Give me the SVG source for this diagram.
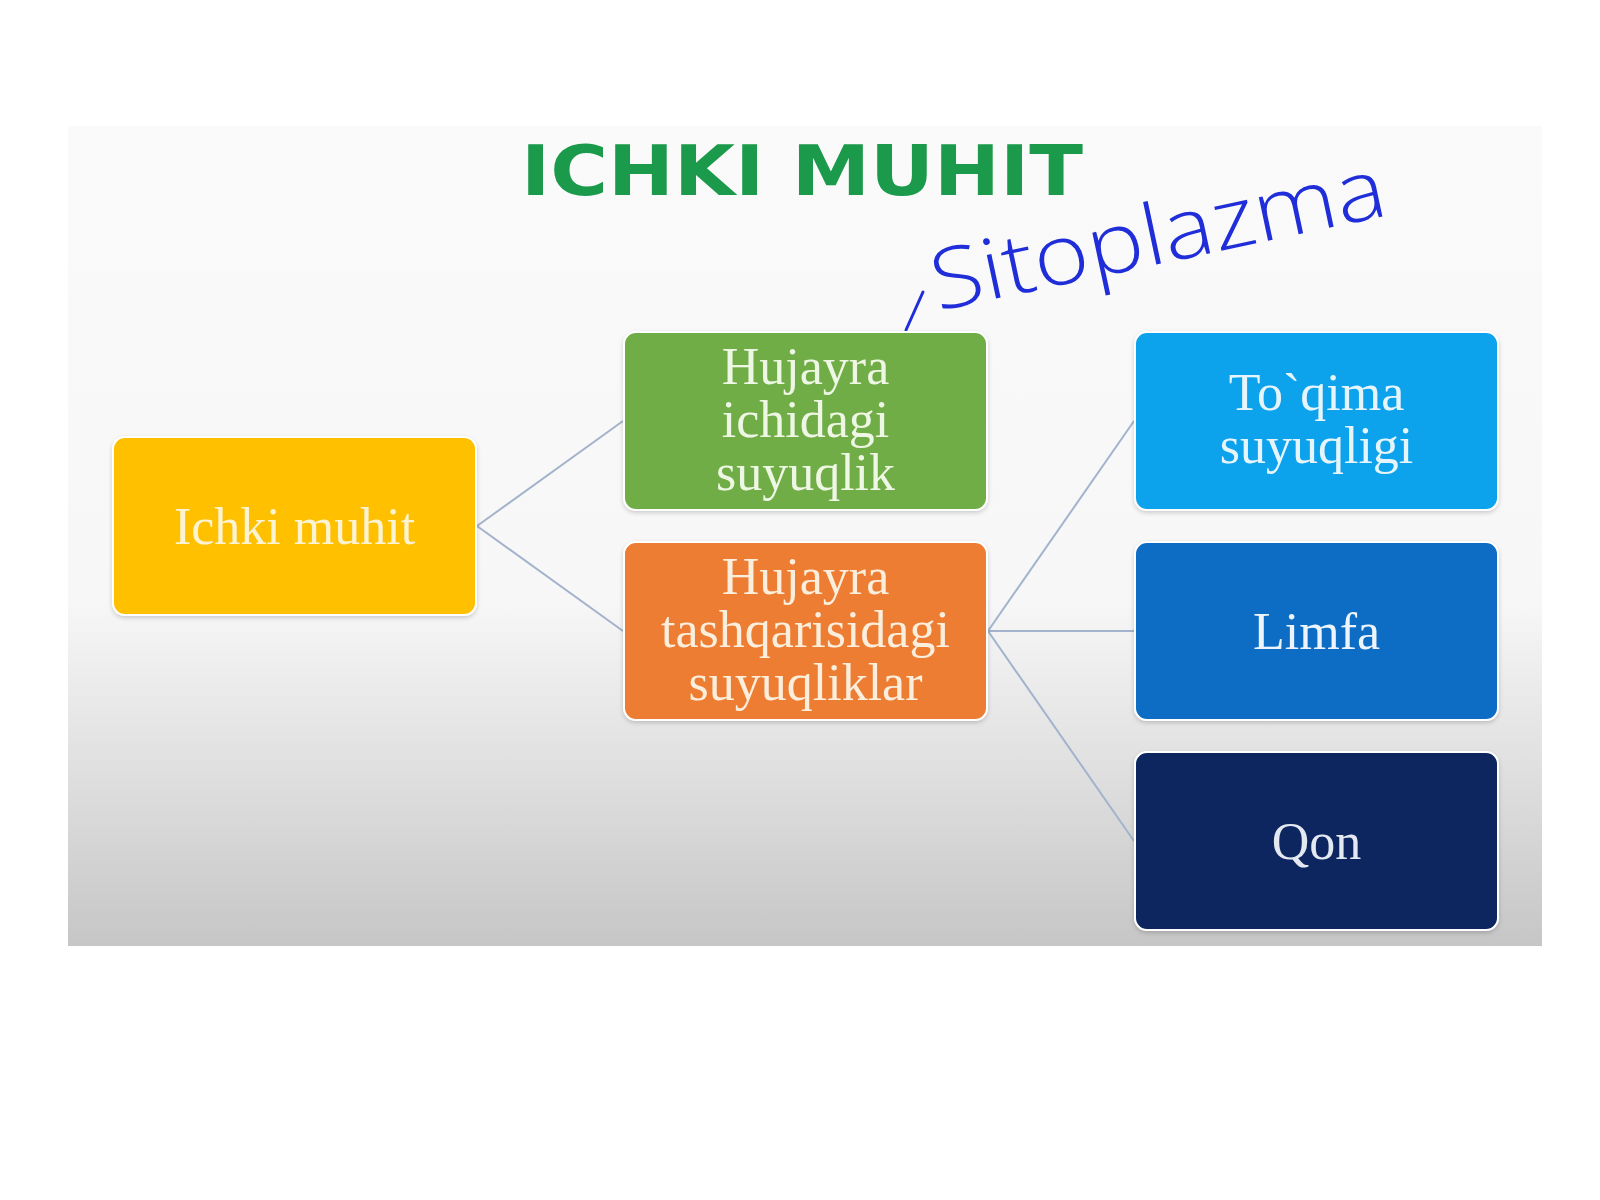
<svg xmlns="http://www.w3.org/2000/svg" width="1600" height="1200" viewBox="0 0 1600 1200">
  <defs>
    <linearGradient id="panelGrad" x1="0" y1="0" x2="0" y2="1">
      <stop offset="0" stop-color="#fafafa"/>
      <stop offset="0.58" stop-color="#f7f7f7"/>
      <stop offset="0.78" stop-color="#e0e0e0"/>
      <stop offset="1" stop-color="#c6c6c6"/>
    </linearGradient>
    <filter id="soft" x="-5%" y="-5%" width="110%" height="115%">
      <feDropShadow dx="0" dy="2" stdDeviation="2" flood-color="#000" flood-opacity="0.18"/>
    </filter>
  </defs>
  <style>
    .box { stroke: #ffffff; stroke-width: 2; filter: url(#soft); }
    .lbl { font-family: "Liberation Serif", "Times New Roman", serif; font-size: 52px; text-anchor: middle; }
    .conn { stroke: #a3b3cc; stroke-width: 2; fill: none; }
  </style>

  <rect x="0" y="0" width="1600" height="1200" fill="#ffffff"/>
  <rect x="68" y="126" width="1474" height="820" fill="url(#panelGrad)"/>

  <g id="title">
    <text x="802" y="195" font-family="DejaVu Sans, sans-serif" font-weight="bold" font-size="70" fill="#1c9a4c" text-anchor="middle" textLength="562" lengthAdjust="spacingAndGlyphs">ICHKI MUHIT</text>
  </g>

  <g id="annotation" fill="none" stroke="#1f2ed8" stroke-width="3" stroke-linecap="round">
    <line x1="906" y1="330" x2="923" y2="292"/>
    <text x="0" y="0" transform="translate(938,311) rotate(-12)" font-family="Open Sans, sans-serif" font-weight="300" font-size="84" fill="#1f2ed8" stroke="none" textLength="462" lengthAdjust="spacingAndGlyphs">Sitoplazma</text>
  </g>

  <g id="connectors">
    <line class="conn" x1="477" y1="526" x2="623" y2="421"/>
    <line class="conn" x1="477" y1="526" x2="623" y2="631"/>
    <line class="conn" x1="988" y1="631" x2="1134" y2="421"/>
    <line class="conn" x1="988" y1="631" x2="1134" y2="631"/>
    <line class="conn" x1="988" y1="631" x2="1134" y2="841"/>
  </g>

  <g id="node-ichki-muhit">
    <rect class="box" x="113" y="437" width="363" height="178" rx="12" fill="#ffc000"/>
    <text class="lbl" x="294.5" y="544" fill="#fbf3d2">Ichki muhit</text>
  </g>

  <g id="node-hujayra-ichidagi">
    <rect class="box" x="624" y="332" width="363" height="178" rx="12" fill="#70ad47"/>
    <text class="lbl" x="805.5" fill="#eef6e4"><tspan x="805.5" y="384">Hujayra</tspan><tspan x="805.5" y="437">ichidagi</tspan><tspan x="805.5" y="490">suyuqlik</tspan></text>
  </g>

  <g id="node-hujayra-tashqarisidagi">
    <rect class="box" x="624" y="542" width="363" height="178" rx="12" fill="#ed7d31"/>
    <text class="lbl" x="805.5" fill="#fbeedd"><tspan x="805.5" y="594">Hujayra</tspan><tspan x="805.5" y="647">tashqarisidagi</tspan><tspan x="805.5" y="700">suyuqliklar</tspan></text>
  </g>

  <g id="node-toqima">
    <rect class="box" x="1135" y="332" width="363" height="178" rx="12" fill="#0aa2ec"/>
    <text class="lbl" x="1316.5" fill="#e6f5fc"><tspan x="1316.5" y="410">To`qima</tspan><tspan x="1316.5" y="463">suyuqligi</tspan></text>
  </g>

  <g id="node-limfa">
    <rect class="box" x="1135" y="542" width="363" height="178" rx="12" fill="#0b6dc4"/>
    <text class="lbl" x="1316.5" y="649" fill="#eef4fb">Limfa</text>
  </g>

  <g id="node-qon">
    <rect class="box" x="1135" y="752" width="363" height="178" rx="12" fill="#0b2560"/>
    <text class="lbl" x="1316.5" y="859" fill="#e4e8f0">Qon</text>
  </g>
</svg>
